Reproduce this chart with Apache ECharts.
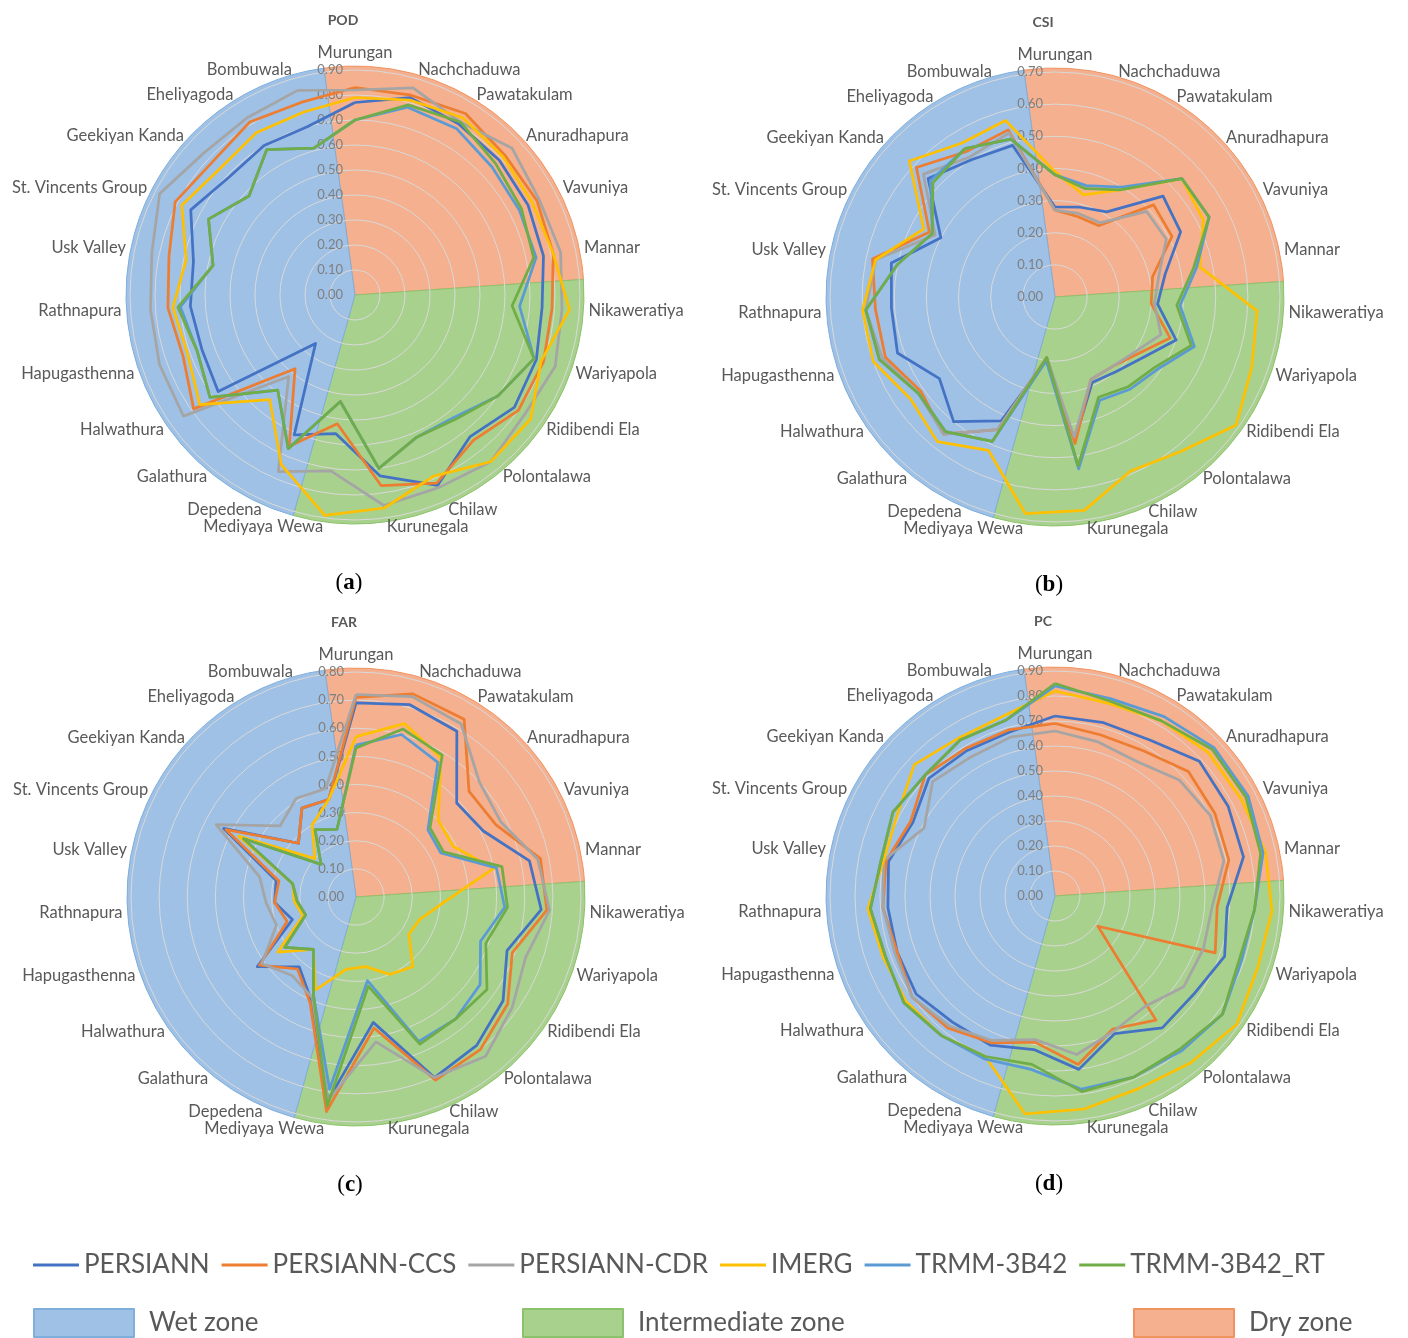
<!DOCTYPE html>
<html lang="en">
<head>
<meta charset="UTF-8">
<title>POD / CSI / FAR / PC by station</title>
<script src="https://cdn.jsdelivr.net/npm/echarts@6/dist/echarts.min.js"></script>
<style>
    html, body { margin: 0; padding: 0; background: #fff; }
    #main { width: 1408px; height: 1338px; }
</style>
</head>
<body>
<div id="main"></div>
<script>
// stations, clockwise from the top
var stations = ['Murungan', 'Nachchaduwa', 'Pawatakulam', 'Anuradhapura', 'Vavuniya', 'Mannar',
    'Nikaweratiya', 'Wariyapola', 'Ridibendi Ela', 'Polontalawa', 'Chilaw', 'Kurunegala',
    'Mediyaya Wewa', 'Depedena', 'Galathura', 'Halwathura', 'Hapugasthenna', 'Rathnapura',
    'Usk Valley', 'St. Vincents Group', 'Geekiyan Kanda', 'Eheliyagoda', 'Bombuwala'];
var products = ['PERSIANN', 'PERSIANN-CCS', 'PERSIANN-CDR', 'IMERG', 'TRMM-3B42', 'TRMM-3B42_RT'];

// zones, clockwise from Murungan (number of stations in each)
var zoneNames = ['Dry zone', 'Intermediate zone', 'Wet zone'];
var zoneStationCounts = [6, 7, 10];

// POD
var podPersiann = [0.77, 0.82, 0.80, 0.79, 0.78, 0.77, 0.75, 0.77, 0.78, 0.73, 0.83, 0.73, 0.56, 0.61, 0.25, 0.67, 0.65, 0.66, 0.66, 0.74, 0.69, 0.70, 0.70];
var podCcs      = [0.83, 0.83, 0.85, 0.82, 0.82, 0.81, 0.79, 0.80, 0.80, 0.75, 0.82, 0.77, 0.52, 0.66, 0.38, 0.79, 0.73, 0.75, 0.76, 0.81, 0.78, 0.81, 0.80];
var podCdr      = [0.82, 0.86, 0.81, 0.86, 0.83, 0.84, 0.83, 0.85, 0.83, 0.86, 0.84, 0.85, 0.71, 0.77, 0.42, 0.84, 0.83, 0.82, 0.83, 0.88, 0.83, 0.83, 0.85];
var podImerg    = [0.79, 0.81, 0.83, 0.81, 0.80, 0.81, 0.86, 0.79, 0.86, 0.86, 0.79, 0.86, 0.89, 0.74, 0.54, 0.76, 0.71, 0.73, 0.69, 0.78, 0.74, 0.76, 0.76];
var podTrmm     = [0.70, 0.78, 0.78, 0.75, 0.74, 0.74, 0.66, 0.76, 0.70, 0.63, 0.62, 0.70, 0.43, 0.67, 0.49, 0.71, 0.67, 0.70, 0.58, 0.66, 0.58, 0.68, 0.61];
var podTrmmRt   = [0.70, 0.79, 0.81, 0.77, 0.75, 0.73, 0.63, 0.76, 0.70, 0.64, 0.62, 0.70, 0.43, 0.67, 0.49, 0.71, 0.67, 0.71, 0.58, 0.66, 0.58, 0.68, 0.61];

// CSI
var csiPersiann = [0.28, 0.29, 0.31, 0.46, 0.44, 0.35, 0.32, 0.40, 0.33, 0.30, 0.29, 0.45, 0.20, 0.42, 0.50, 0.44, 0.52, 0.51, 0.52, 0.40, 0.54, 0.50, 0.49];
var csiCcs      = [0.27, 0.26, 0.26, 0.42, 0.41, 0.31, 0.30, 0.38, 0.31, 0.28, 0.28, 0.46, 0.19, 0.45, 0.55, 0.51, 0.56, 0.56, 0.58, 0.44, 0.59, 0.53, 0.54];
var csiCdr      = [0.27, 0.27, 0.27, 0.39, 0.39, 0.33, 0.31, 0.35, 0.30, 0.28, 0.28, 0.44, 0.19, 0.45, 0.55, 0.52, 0.57, 0.59, 0.57, 0.42, 0.56, 0.51, 0.53];
var csiImerg    = [0.39, 0.33, 0.39, 0.54, 0.52, 0.46, 0.63, 0.65, 0.69, 0.62, 0.59, 0.67, 0.68, 0.52, 0.58, 0.55, 0.60, 0.60, 0.57, 0.46, 0.62, 0.56, 0.57];
var csiTrmm     = [0.38, 0.36, 0.40, 0.54, 0.54, 0.45, 0.39, 0.46, 0.39, 0.37, 0.35, 0.54, 0.20, 0.49, 0.54, 0.52, 0.58, 0.59, 0.50, 0.43, 0.53, 0.54, 0.51];
var csiTrmmRt   = [0.38, 0.35, 0.39, 0.54, 0.54, 0.44, 0.38, 0.45, 0.38, 0.36, 0.34, 0.53, 0.19, 0.49, 0.54, 0.52, 0.58, 0.59, 0.50, 0.43, 0.52, 0.54, 0.51];

// FAR
var farPersiann = [0.69, 0.71, 0.69, 0.49, 0.51, 0.63, 0.66, 0.57, 0.64, 0.68, 0.70, 0.45, 0.73, 0.40, 0.32, 0.43, 0.24, 0.29, 0.29, 0.53, 0.28, 0.37, 0.36];
var farCcs      = [0.71, 0.75, 0.74, 0.55, 0.56, 0.67, 0.68, 0.59, 0.66, 0.70, 0.71, 0.47, 0.77, 0.41, 0.33, 0.42, 0.26, 0.29, 0.28, 0.52, 0.28, 0.37, 0.36];
var farCdr      = [0.72, 0.74, 0.72, 0.60, 0.58, 0.66, 0.69, 0.64, 0.68, 0.73, 0.70, 0.52, 0.73, 0.39, 0.36, 0.41, 0.30, 0.32, 0.35, 0.56, 0.37, 0.41, 0.40];
var farImerg    = [0.57, 0.64, 0.58, 0.40, 0.39, 0.50, 0.31, 0.24, 0.23, 0.32, 0.30, 0.25, 0.26, 0.36, 0.24, 0.34, 0.20, 0.22, 0.23, 0.47, 0.20, 0.30, 0.36];
var farTrmm     = [0.54, 0.60, 0.56, 0.35, 0.34, 0.51, 0.53, 0.47, 0.54, 0.56, 0.56, 0.30, 0.69, 0.38, 0.24, 0.31, 0.19, 0.21, 0.23, 0.45, 0.17, 0.28, 0.25];
var farTrmmRt   = [0.53, 0.62, 0.59, 0.36, 0.35, 0.53, 0.54, 0.49, 0.57, 0.56, 0.57, 0.32, 0.75, 0.38, 0.24, 0.31, 0.19, 0.21, 0.23, 0.45, 0.17, 0.28, 0.25];

// PC
var pcPersiann = [0.72, 0.72, 0.73, 0.79, 0.78, 0.77, 0.69, 0.72, 0.68, 0.68, 0.60, 0.70, 0.62, 0.65, 0.65, 0.68, 0.67, 0.67, 0.68, 0.64, 0.69, 0.68, 0.68];
var pcCcs      = [0.69, 0.67, 0.68, 0.73, 0.72, 0.71, 0.65, 0.68, 0.21, 0.64, 0.58, 0.68, 0.59, 0.64, 0.68, 0.70, 0.67, 0.69, 0.69, 0.65, 0.71, 0.69, 0.69];
var pcCdr      = [0.66, 0.64, 0.63, 0.68, 0.70, 0.69, 0.63, 0.63, 0.63, 0.57, 0.59, 0.64, 0.58, 0.63, 0.67, 0.70, 0.68, 0.69, 0.70, 0.59, 0.67, 0.65, 0.66];
var pcImerg    = [0.82, 0.80, 0.82, 0.84, 0.84, 0.86, 0.87, 0.86, 0.89, 0.86, 0.84, 0.86, 0.88, 0.70, 0.72, 0.73, 0.73, 0.75, 0.70, 0.71, 0.77, 0.74, 0.75];
var pcTrmm     = [0.84, 0.82, 0.84, 0.87, 0.87, 0.85, 0.80, 0.79, 0.82, 0.80, 0.79, 0.78, 0.70, 0.71, 0.72, 0.74, 0.72, 0.74, 0.71, 0.73, 0.71, 0.73, 0.73];
var pcTrmmRt   = [0.85, 0.81, 0.82, 0.86, 0.86, 0.84, 0.80, 0.78, 0.82, 0.79, 0.79, 0.79, 0.68, 0.70, 0.72, 0.74, 0.72, 0.74, 0.71, 0.73, 0.71, 0.73, 0.73];

var colors = ['#4472c4', '#ed7d31', '#a5a5a5', '#ffc000', '#5b9bd5', '#70ad47'];
var zoneColors = ['#f4b08f', '#a9d18e', '#9fc1e6'];
var zoneBorders = ['#f0935f', '#8dc26c', '#7eaedc'];

var panels = [
    { title: 'POD', tag: 'a', max: 0.9, center: [355, 295], data: [podPersiann, podCcs, podCdr, podImerg, podTrmm, podTrmmRt] },
    { title: 'CSI', tag: 'b', max: 0.7, center: [1055, 297], data: [csiPersiann, csiCcs, csiCdr, csiImerg, csiTrmm, csiTrmmRt] },
    { title: 'FAR', tag: 'c', max: 0.8, center: [356, 897], data: [farPersiann, farCcs, farCdr, farImerg, farTrmm, farTrmmRt] },
    { title: 'PC', tag: 'd', max: 0.9, center: [1055, 896], data: [pcPersiann, pcCcs, pcCdr, pcImerg, pcTrmm, pcTrmmRt] }
];

// echarts lays radar indicators out counter-clockwise, the original goes clockwise
function ccw(arr) {
    return [arr[0]].concat(arr.slice(1).reverse());
}

var font = 'Lato, "Noto Sans", sans-serif';
var radars = [];
var series = [];
var graphics = [];

panels.forEach(function (p, i) {
    radars.push({
        center: p.center,
        radius: 225,
        startAngle: 90,
        shape: 'circle',
        splitNumber: Math.round(p.max * 10),
        nameGap: 9,
        axisName: { color: '#595959', fontSize: 16.5, fontFamily: font },
        indicator: ccw(stations).map(function (n, k) {
            var ind = { name: n, min: 0, max: p.max };
            if (k === 0) ind.axisLabel = { show: true };
            return ind;
        }),
        axisLine: { show: false },
        axisTick: { show: false },
        axisLabel: {
            show: false, color: '#7f7f7f', fontSize: 13, margin: 12, fontFamily: font,
            formatter: function (v) { return Number(v).toFixed(2); }
        },
        splitLine: { lineStyle: { color: '#d9d9d9', width: 1 } },
        splitArea: { show: false },
        z: 3
    });

    // zone background, one wedge per station centred on its axis
    series.push({
        type: 'pie',
        center: p.center,
        radius: [0, 229],
        startAngle: 90 + 180 / stations.length,
        clockwise: true,
        silent: true,
        z: 1,
        label: { show: false },
        labelLine: { show: false },
        data: zoneNames.map(function (n, k) {
            return {
                name: n, value: zoneStationCounts[k],
                itemStyle: { color: zoneColors[k], borderColor: zoneBorders[k], borderWidth: 1 }
            };
        })
    });

    series.push({
        type: 'radar',
        radarIndex: i,
        symbol: 'none',
        silent: true,
        z: 4,
        data: products.map(function (name, j) {
            return {
                name: name,
                value: ccw(p.data[j]),
                itemStyle: { color: colors[j] },
                lineStyle: { color: colors[j], width: 2.75 }
            };
        })
    });

    graphics.push({
        type: 'text', x: p.center[0] - 12, y: p.center[1] - 275,
        style: { text: p.title, fill: '#595959', font: 'bold 14px ' + font, textAlign: 'center', textVerticalAlign: 'middle' }
    });
    graphics.push({
        type: 'text', x: p.center[0] - 6, y: p.center[1] + 288,
        style: {
            text: '({b|' + p.tag + '})', fill: '#000', font: '23px "Liberation Serif", serif',
            textAlign: 'center', textVerticalAlign: 'middle',
            rich: { b: { fontWeight: 'bold', fontSize: 23, fontFamily: '"Liberation Serif", serif', fill: '#000' } }
        }
    });
});

var legendText = { fontSize: 26, color: '#595959', fontFamily: font };
var zoneText = { fontSize: 26, color: '#595959', fontFamily: font, padding: [0, 0, 0, 10] };

var chart = echarts.init(document.getElementById('main'));
chart.setOption({
    animation: false,
    color: colors,
    radar: radars,
    legend: [
        { data: products, left: 33, top: 1252, padding: 0, icon: 'rect', itemWidth: 46, itemHeight: 3, itemGap: 12, selectedMode: false, textStyle: legendText },
        { data: ['Wet zone'], left: 33, top: 1308, padding: 0, icon: 'rect', itemWidth: 100, itemHeight: 28, selectedMode: false, textStyle: zoneText },
        { data: ['Intermediate zone'], left: 522, top: 1308, padding: 0, icon: 'rect', itemWidth: 100, itemHeight: 28, selectedMode: false, textStyle: zoneText },
        { data: ['Dry zone'], left: 1133, top: 1308, padding: 0, icon: 'rect', itemWidth: 100, itemHeight: 28, selectedMode: false, textStyle: zoneText }
    ],
    graphic: graphics,
    series: series
});
</script>
</body>
</html>
